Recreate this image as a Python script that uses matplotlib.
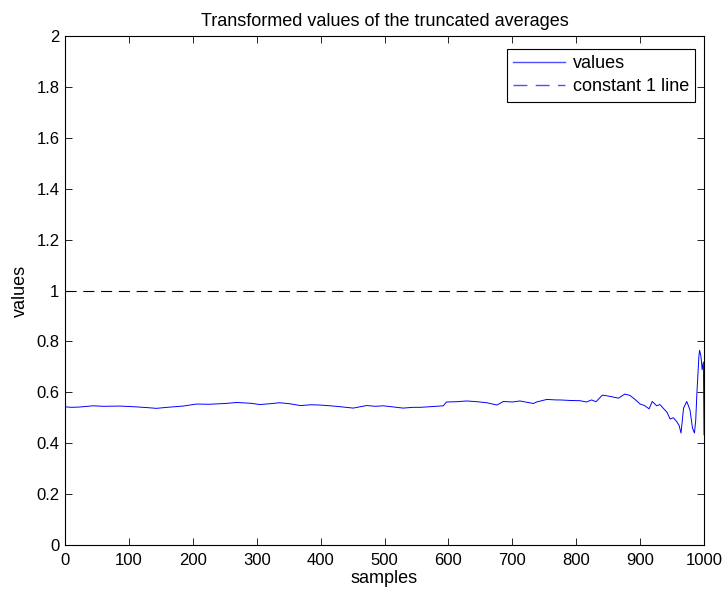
import numpy as np
import matplotlib
matplotlib.use("Agg")
import matplotlib.pyplot as plt
from matplotlib.lines import Line2D

plt.rcParams["font.family"] = ["Liberation Sans", "DejaVu Sans"]
plt.rcParams["font.size"] = 12

# truncated-average transform, read at sample positions
samples = [0, 10, 22, 44, 60, 86, 110, 128, 143, 160, 185, 206, 225, 250, 269,
           290, 305, 320, 336, 352, 368, 385, 399, 420, 436, 451, 472, 486, 498,
           512, 529, 545, 556, 575, 592, 597, 612, 629, 645, 660, 676, 686, 700,
           712, 733, 738, 754, 769, 775, 790, 806, 816, 824, 831, 841, 853, 866,
           876, 884, 892, 900, 907, 914, 919, 926, 931, 936, 942, 947, 952, 957,
           961, 964, 968, 973, 978, 982, 985, 987, 989, 992, 993, 995, 996, 997,
           999, 1000]
values = [0.543, 0.541, 0.542, 0.547, 0.545, 0.546, 0.543, 0.540, 0.537, 0.541,
          0.546, 0.554, 0.553, 0.556, 0.560, 0.557, 0.552, 0.555, 0.559, 0.555,
          0.548, 0.551, 0.550, 0.546, 0.542, 0.538, 0.548, 0.545, 0.547, 0.543,
          0.538, 0.541, 0.541, 0.544, 0.547, 0.562, 0.563, 0.566, 0.563, 0.559,
          0.550, 0.564, 0.562, 0.566, 0.556, 0.562, 0.572, 0.570, 0.570, 0.568,
          0.567, 0.562, 0.570, 0.563, 0.589, 0.584, 0.577, 0.593, 0.588, 0.572,
          0.554, 0.548, 0.535, 0.564, 0.547, 0.552, 0.538, 0.522, 0.495, 0.500,
          0.486, 0.470, 0.440, 0.538, 0.564, 0.531, 0.459, 0.440, 0.489, 0.604,
          0.741, 0.765, 0.745, 0.722, 0.689, 0.719, 0.433]

ref_x = [0, 1000]
ref_y = [1, 1]

fig = plt.figure(figsize=(7.24, 5.91), dpi=100)
ax = fig.add_axes([0.0898, 0.0778, 0.8826, 0.8613])

dash = (0, (10, 6))
ax.plot(samples, values, color="#0000ff", lw=0.7)
ax.plot(ref_x, ref_y, color="black", lw=0.8, ls=dash)

ax.set_xlim(0, 1000)
ax.set_ylim(0, 2)
ax.set_xticks(np.arange(0, 1001, 100))
ax.set_yticks(np.arange(0, 2.01, 0.2))
ax.set_yticklabels(["0", "0.2", "0.4", "0.6", "0.8", "1", "1.2", "1.4", "1.6", "1.8", "2"])
ax.tick_params(direction="in", top=True, right=True, length=5, width=0.6,
               labelsize=12)
ax.tick_params(axis="x", pad=6)
ax.tick_params(axis="y", pad=4)
for sp in ax.spines.values():
    sp.set_linewidth(0.8)

ax.set_xlabel("samples", fontsize=13, labelpad=1)
ax.set_ylabel("values", fontsize=13, labelpad=5)
ax.set_title("Transformed values of the truncated averages", fontsize=13, pad=7)

handles = [Line2D([], [], color="#4f4fff", lw=1.0),
           Line2D([], [], color="#4f4fff", lw=1.0, ls=dash)]
leg = ax.legend(handles, ["values", "constant 1 line"], loc="upper right",
                bbox_to_anchor=(0.986, 0.975), borderaxespad=0, fancybox=False,
                framealpha=1, edgecolor="black", fontsize=13, handlelength=2.9,
                borderpad=0.35, labelspacing=0.35, handletextpad=0.4)
leg.get_frame().set_linewidth(0.8)

fig.savefig("out.png", dpi=100)
